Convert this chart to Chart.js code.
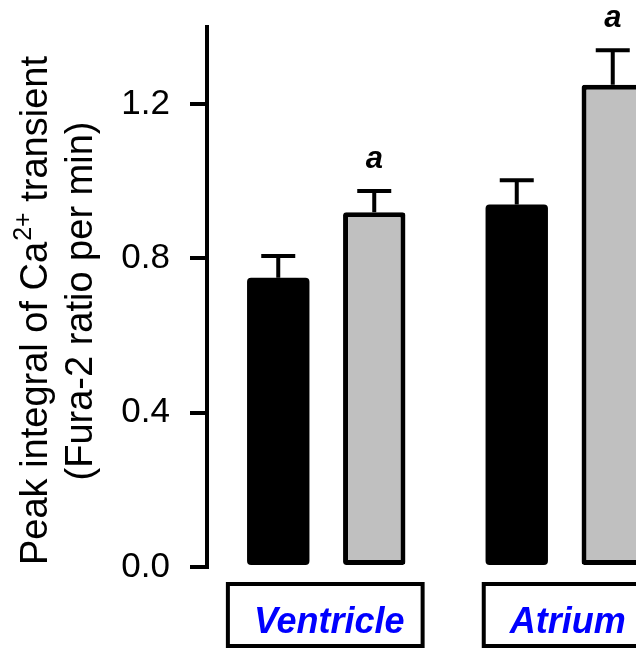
<!DOCTYPE html>
<html>
<head>
<meta charset="utf-8">
<script src="https://cdn.jsdelivr.net/npm/chart.js@4/dist/chart.umd.min.js"></script>
<style>
  html, body { margin: 0; padding: 0; overflow: hidden; background: #fff; }
  #wrap { width: 684px; height: 650px; }
</style>
</head>
<body>
<div id="wrap"><canvas id="peakChart"></canvas></div>
<script>
const regions = ['Ventricle', 'Atrium'];
const controlMeans = [0.75, 0.94];
const controlErrors = [0.056, 0.063];
const treatedMeans = [0.92, 1.25];
const treatedErrors = [0.055, 0.09];
const treatedMarks = ['a', 'a'];
const yTicks = [0.0, 0.4, 0.8, 1.2];

const errors = [controlErrors, treatedErrors];
const FONT = 'Arial, "Liberation Sans", sans-serif';

// error bars (upper whisker only) + significance letters
const errorBars = {
    id: 'errorBars',
    afterDatasetsDraw(chart) {
        const ctx = chart.ctx;
        const y = chart.scales.y;
        ctx.save();
        ctx.strokeStyle = '#000';
        ctx.lineWidth = 4;
        ctx.lineCap = 'butt';
        chart.data.datasets.forEach((ds, i) => {
            const meta = chart.getDatasetMeta(i);
            meta.data.forEach((bar, j) => {
                const top = y.getPixelForValue(ds.data[j] + errors[i][j]);
                ctx.beginPath();
                ctx.moveTo(bar.x, bar.y);
                ctx.lineTo(bar.x, top);
                ctx.moveTo(bar.x - 17, top);
                ctx.lineTo(bar.x + 17, top);
                ctx.stroke();
                if (i === 1 && treatedMarks[j]) {
                    ctx.fillStyle = '#000';
                    ctx.font = 'italic bold 31px ' + FONT;
                    ctx.textAlign = 'center';
                    ctx.textBaseline = 'alphabetic';
                    ctx.fillText(treatedMarks[j], bar.x, top - 23);
                }
            });
        });
        ctx.restore();
    }
};

// boxed category labels under the bars
const boxLabels = {
    id: 'boxLabels',
    afterDraw(chart) {
        const ctx = chart.ctx;
        const x = chart.scales.x;
        ctx.save();
        ctx.font = 'italic bold 36px ' + FONT;
        ctx.textAlign = 'center';
        ctx.textBaseline = 'alphabetic';
        regions.forEach((name, j) => {
            const cx = x.getPixelForValue(j) + 3;
            const w = ctx.measureText(name).width;
            ctx.strokeStyle = '#000';
            ctx.lineWidth = 4;
            ctx.strokeRect(cx - w / 2 - 26, 584, w + 44, 62);
            ctx.fillStyle = '#0000FF';
            ctx.fillText(name, cx, 633);
        });
        ctx.restore();
    }
};

// rotated two-line y title with superscript
const yTitle = {
    id: 'yTitle',
    afterDraw(chart) {
        const ctx = chart.ctx;
        const cy = 311;
        ctx.save();
        ctx.fillStyle = '#000';
        ctx.textBaseline = 'alphabetic';
        ctx.textAlign = 'left';

        ctx.translate(47, cy);
        ctx.rotate(-Math.PI / 2);
        const big = '38px ' + FONT;
        const small = '25px ' + FONT;
        ctx.font = big;
        const p1 = 'Peak integral of Ca';
        const p3 = ' transient';
        const w1 = ctx.measureText(p1).width;
        const w3 = ctx.measureText(p3).width;
        ctx.font = small;
        const w2 = ctx.measureText('2+').width;
        let sx = -(w1 + w2 + w3) / 2;
        ctx.font = big;
        ctx.fillText(p1, sx, 0);
        ctx.font = small;
        ctx.fillText('2+', sx + w1 + 1, -16);
        ctx.font = big;
        ctx.fillText(p3, sx + w1 + w2 + 1, 0);
        ctx.restore();

        ctx.save();
        ctx.fillStyle = '#000';
        ctx.textBaseline = 'alphabetic';
        ctx.textAlign = 'center';
        ctx.translate(92, cy - 10);
        ctx.rotate(-Math.PI / 2);
        ctx.font = '38px ' + FONT;
        ctx.fillText('(Fura-2 ratio per min)', 0, 0);
        ctx.restore();
    }
};

const ctx = document.getElementById('peakChart').getContext('2d');
new Chart(ctx, {
    type: 'bar',
    data: {
        labels: regions,
        datasets: [{
            label: 'Control',
            data: controlMeans,
            backgroundColor: '#000',
            borderWidth: 0,
            borderSkipped: false,
            borderRadius: 4
        }, {
            label: 'Treated',
            data: treatedMeans,
            backgroundColor: '#C0C0C0',
            borderColor: '#000',
            borderWidth: 5,
            borderSkipped: false,
            borderRadius: 3
        }]
    },
    options: {
        responsive: true,
        maintainAspectRatio: false,
        animation: false,
        categoryPercentage: 0.805,
        barPercentage: 0.65,
        layout: { padding: { top: 27, bottom: 83, left: 0, right: 0 } },
        plugins: {
            legend: { display: false },
            tooltip: { enabled: false }
        },
        scales: {
            x: { display: false },
            y: {
                min: 0,
                max: 1.4,
                afterFit: s => {
                    s.width = 207;
                    s.paddingTop = 0;
                    s.paddingBottom = 0;
                },
                afterBuildTicks: s => { s.ticks = yTicks.map(v => ({ value: v })); },
                border: { display: true, width: 4, color: '#000' },
                grid: {
                    display: true,
                    drawOnChartArea: false,
                    drawTicks: true,
                    tickLength: 17,
                    tickWidth: 4,
                    tickColor: '#000',
                    lineWidth: 4,
                    color: '#000'
                },
                ticks: {
                    padding: 20,
                    color: '#000',
                    font: { family: FONT, size: 35 },
                    callback: v => v.toFixed(1)
                }
            }
        }
    },
    plugins: [errorBars, boxLabels, yTitle]
});
</script>
</body>
</html>
